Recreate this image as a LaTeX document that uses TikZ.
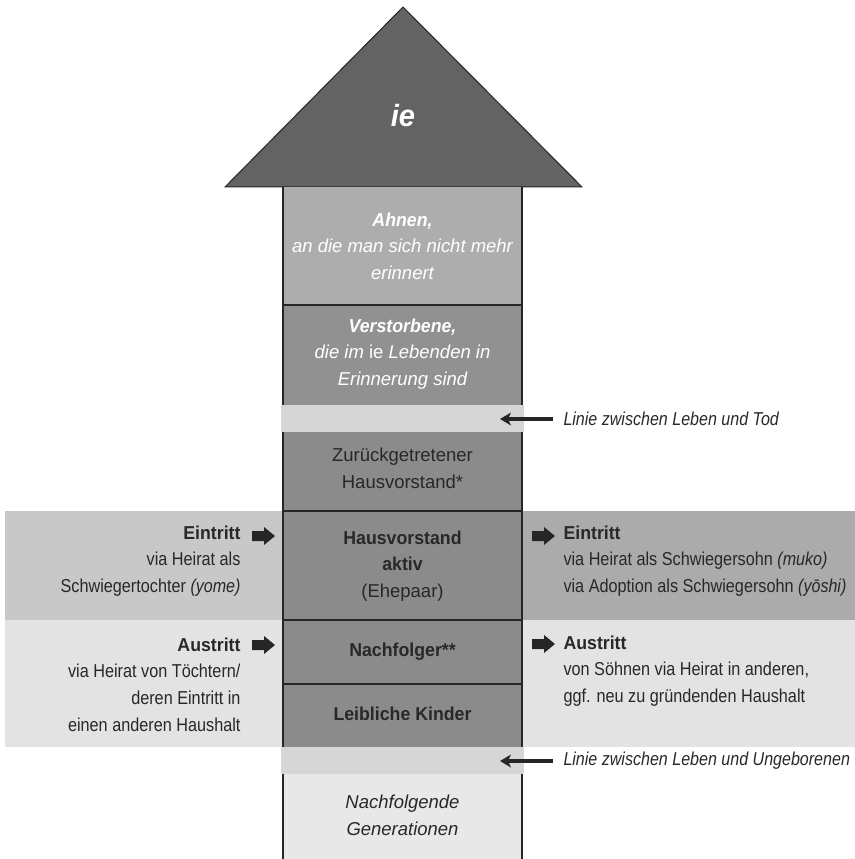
\documentclass[tikz,border=0pt]{standalone}
\usepackage{fontspec}
\setmainfont{Liberation Sans}[FakeStretch=0.87,
  ItalicFeatures={FakeStretch=0.86},
  BoldFeatures={FakeStretch=0.95},
  BoldItalicFeatures={FakeStretch=0.95}]
\newfontfamily\saeulefont{Liberation Sans}[FakeStretch=0.99,
  BoldFeatures={FakeStretch=0.95},
  BoldItalicFeatures={FakeStretch=0.95}]

\tikzset{every picture/.style={line width=0.75pt}}
\tikzset{
  rand/.style={color={rgb, 255:red, 38; green, 38; blue, 38 }, line width=2.2},
  txt/.style={inner sep=0pt, align=center, font=\fontsize{14}{20}\selectfont, text={rgb, 255:red, 40; green, 40; blue, 40 }},
  saeule/.style={txt, font=\saeulefont\fontsize{14}{20}\selectfont},
  weiss/.style={saeule, text={rgb, 255:red, 255; green, 255; blue, 255 }},
  pfeilspitze/.style={fill={rgb, 255:red, 38; green, 38; blue, 38 }, draw opacity=0}
}

\begin{document}
\begin{tikzpicture}[x=0.75pt,y=0.75pt,yscale=-1,xscale=1]
\useasboundingbox (0,0) rectangle (855,859);

%Shape: Rectangle (Eintritt links)
\fill [color={rgb, 255:red, 200; green, 200; blue, 200 }] (5,511) rectangle (283,620) ;
%Shape: Rectangle (Eintritt rechts)
\fill [color={rgb, 255:red, 171; green, 171; blue, 171 }] (522,511) rectangle (855,620) ;
%Shape: Rectangle (Austritt links)
\fill [color={rgb, 255:red, 227; green, 227; blue, 227 }] (5,620) rectangle (283,747) ;
%Shape: Rectangle (Austritt rechts)
\fill [color={rgb, 255:red, 227; green, 227; blue, 227 }] (522,620) rectangle (855,747) ;

%Shape: Triangle (Dach)
\draw [color={rgb, 255:red, 38; green, 38; blue, 38 }, fill={rgb, 255:red, 99; green, 99; blue, 99 }] (403,7) -- (582,187) -- (225,187) -- cycle ;

%Shape: Rectangle (Saeule)
\fill [color={rgb, 255:red, 173; green, 173; blue, 173 }] (283,187) rectangle (522,305) ;
\fill [color={rgb, 255:red, 145; green, 145; blue, 145 }] (283,305) rectangle (522,405) ;
\fill [color={rgb, 255:red, 139; green, 139; blue, 139 }] (283,432) rectangle (522,747) ;
\fill [color={rgb, 255:red, 232; green, 232; blue, 232 }] (283,774) rectangle (522,859) ;
%Straight Lines (Raender)
\draw [rand] (283,187) -- (283,405) (522,187) -- (522,405) (283,305) -- (522,305) ;
\draw [rand] (283,432) -- (283,747) (522,432) -- (522,747) (283,511) -- (522,511) (283,620) -- (522,620) (283,684) -- (522,684) ;
\draw [rand] (283,774) -- (283,859) (522,774) -- (522,859) ;
%Shape: Rectangle (Linien)
\fill [color={rgb, 255:red, 214; green, 214; blue, 214 }] (281,405) rectangle (524,432) ;
\fill [color={rgb, 255:red, 214; green, 214; blue, 214 }] (281,747) rectangle (524,774) ;

%Texte Saeule
\node [weiss, font=\saeulefont\fontsize{23}{26}\selectfont\bfseries\itshape] (ie) at (403,116) {ie};
\node [weiss, font=\saeulefont\fontsize{14}{20}\selectfont\itshape] (ahnen) at (402.5,246) {\textbf{Ahnen,}\\an die man sich nicht mehr\\erinnert};
\node [weiss, font=\saeulefont\fontsize{14}{20}\selectfont\itshape] (verstorbene) at (402.5,354) {\textbf{Verstorbene,}\\die im \textup{ie} Lebenden in\\Erinnerung sind};
\node [saeule] (zurueck) at (402.5,468) {Zurückgetretener\\Hausvorstand*};
\node [saeule] (hausvorstand) at (402.5,566) {\textbf{Hausvorstand}\\\textbf{aktiv}\\(Ehepaar)};
\node [saeule, font=\saeulefont\fontsize{14}{20}\selectfont\bfseries] (nachfolger) at (402.5,652) {Nachfolger**};
\node [saeule, font=\saeulefont\fontsize{14}{20}\selectfont\bfseries] (kinder) at (402.5,714) {Leibliche Kinder};
\node [saeule, font=\saeulefont\fontsize{14}{20}\selectfont\itshape] (generationen) at (402.5,815) {Nachfolgende\\Generationen};

%Texte links
\node [txt, anchor=east, align=right] (eintrittL) at (241,561) {\textbf{Eintritt}\\via Heirat als\\Schwiegertochter \textit{(yome)}};
\node [txt, anchor=east, align=right] (austrittL) at (241,684.5) {\textbf{Austritt}\\via Heirat von Töchtern/\\deren Eintritt in\\einen anderen Haushalt};
%Texte rechts
\node [txt, anchor=west, align=left] (eintrittR) at (563,561) {\textbf{Eintritt}\\via Heirat als Schwiegersohn \textit{(muko)}\\via Adoption als Schwiegersohn \textit{(yōshi)}};
\node [txt, anchor=west, align=left] (austrittR) at (563,671) {\textbf{Austritt}\\von Söhnen via Heirat in anderen,\\ggf. neu zu gründenden Haushalt};

%Linien
\node [txt, anchor=west, font=\fontsize{14}{20}\selectfont\itshape] (tod) at (563,419) {Linie zwischen Leben und Tod};
\node [txt, anchor=west, font=\fontsize{14}{20}\selectfont\itshape] (ungeboren) at (563,761) {Linie zwischen Leben und Ungeborenen};
\coordinate (todspitze) at (500,419) ;
\coordinate (ungeborenspitze) at (500,761) ;

%Straight Lines
\draw [rand, line width=3, shorten <=7.5pt, shorten >=5pt] (tod.west) -- (todspitze) ;
\draw [shift={(todspitze)}, rotate = 0] [pfeilspitze] (11,-6.5) -- (0,0) -- (11,6.5) -- (8,0) -- cycle ;
%Straight Lines
\draw [rand, line width=3, shorten <=7.5pt, shorten >=5pt] (ungeboren.west) -- (ungeborenspitze) ;
\draw [shift={(ungeborenspitze)}, rotate = 0] [pfeilspitze] (11,-6.5) -- (0,0) -- (11,6.5) -- (8,0) -- cycle ;

%Right Arrow (Eintritt/Austritt)
\draw [pfeilspitze] (252,531) -- (264,531) -- (264,527) -- (275,536) -- (264,545) -- (264,541) -- (252,541) -- cycle ;
\draw [pfeilspitze] (252,640) -- (264,640) -- (264,636) -- (275,645) -- (264,654) -- (264,650) -- (252,650) -- cycle ;
\draw [pfeilspitze] (532,531) -- (544,531) -- (544,527) -- (555,536) -- (544,545) -- (544,541) -- (532,541) -- cycle ;
\draw [pfeilspitze] (532,639) -- (544,639) -- (544,635) -- (555,644) -- (544,653) -- (544,649) -- (532,649) -- cycle ;

\end{tikzpicture}
\end{document}
